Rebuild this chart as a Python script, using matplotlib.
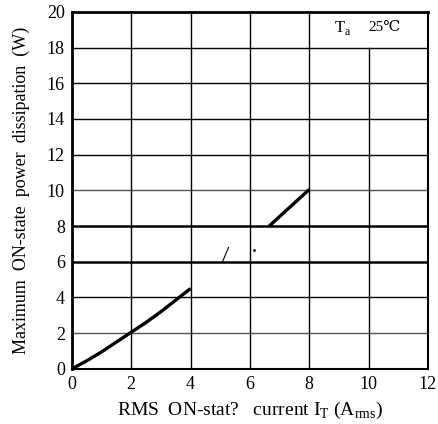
import numpy as np
import matplotlib
matplotlib.use("Agg")
import matplotlib.pyplot as plt

plt.rcParams['font.family'] = ['Liberation Serif', 'DejaVu Serif']
plt.rcParams['mathtext.fontset'] = 'custom'
plt.rcParams['mathtext.rm'] = 'Liberation Serif'

# curve pieces (the printed curve is broken up)
seg1_x = [0, 0.5, 1.0, 1.5, 2.0, 2.5, 3.0, 3.5, 4.0]
seg1_y = [0, 0.45, 0.95, 1.5, 2.05, 2.6, 3.2, 3.85, 4.5]
seg2_x = [5.09, 5.28]
seg2_y = [6.05, 6.8]
dot_x = [6.15]
dot_y = [6.67]
seg3_x = [6.65, 8.0]
seg3_y = [8.0, 10.05]

x_ticks = [0, 2, 4, 6, 8, 10, 12]
y_ticks = [0, 2, 4, 6, 8, 10, 12, 14, 16, 18, 20]
heavy_y = [6, 8]

fig = plt.figure(figsize=(4.38, 4.24), dpi=100)
ax = fig.add_axes([0.164, 0.130, 0.813, 0.842])

ax.set_xlim(0, 12)
ax.set_ylim(0, 20)

# grid
for yv in y_ticks[1:-1]:
    lw = 1.8 if yv in heavy_y else 1.0
    col = '#555555' if yv in (2, 10) else 'black'
    ax.axhline(yv, color=col, lw=lw, zorder=1)
for xv in x_ticks[1:-1]:
    top = 0.9 if xv == 10 else 1.0
    ax.axvline(xv, ymax=top, color='black', lw=1.0, zorder=1)

ax.plot(seg1_x, seg1_y, color='black', lw=2.4, solid_capstyle='butt', zorder=3)
ax.plot(seg2_x, seg2_y, color='black', lw=0.8, zorder=3)
ax.plot(dot_x, dot_y, 'k.', ms=2, zorder=3)
ax.plot(seg3_x, seg3_y, color='black', lw=2.4, solid_capstyle='butt', zorder=3)

for side in ['left', 'top']:
    ax.spines[side].set_linewidth(2.0)
for side in ['right', 'bottom']:
    ax.spines[side].set_linewidth(1.5)

ax.set_xticks(x_ticks)
ax.set_yticks(y_ticks)
ax.tick_params(length=0, labelsize=13, pad=5)

ax.set_xlabel('RMS  ON-stat?   current I$_{\\rm T}$ (A$_{\\rm rms}$)', fontsize=14, labelpad=5)
ax.set_ylabel('Maximum  ON-state  power  dissipation  (W)', fontsize=13, labelpad=12)

ax.text(8.85, 19.1, 'T$_{\\rm a}$', fontsize=12, ha='left', va='center')
ax.text(10.0, 19.15, '25\u2103', fontsize=11, ha='left', va='center')

fig.savefig('out.png', dpi=100)
